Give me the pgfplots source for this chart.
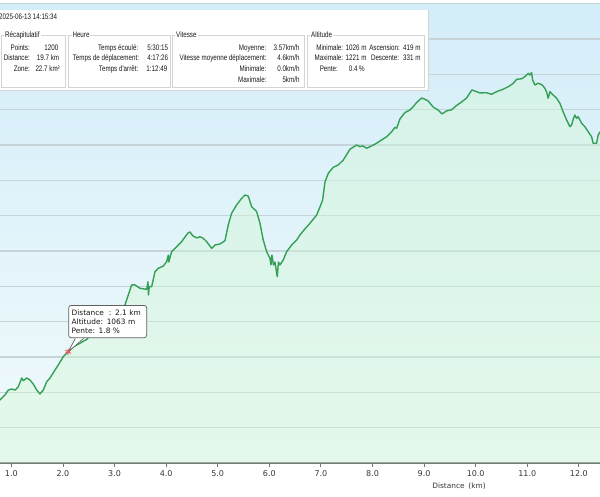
\documentclass[border=0pt]{standalone}
\usepackage{pgfplots}
\usepackage{pgfplotstable}
\pgfplotsset{compat=1.18}
\usepackage{fontspec}
\setmainfont{DejaVu Sans}
\newfontfamily\panelfont{Liberation Sans}[FakeStretch=0.78]
\definecolor{lineGreen}{RGB}{52,160,86}
\definecolor{fillCol}{RGB}{212,248,214}
\definecolor{bgTop}{RGB}{211,237,249}
\definecolor{bgBot}{RGB}{241,250,251}
\definecolor{gridCol}{RGB}{198,211,217}
\definecolor{axisCol}{RGB}{112,120,116}
\definecolor{tickText}{RGB}{55,55,55}
\definecolor{panelText}{RGB}{25,25,25}
\definecolor{boxCol}{RGB}{212,212,212}
\definecolor{tipGray}{RGB}{95,95,95}
\definecolor{starRed}{RGB}{232,88,88}

\pgfplotstableread{
km alt
0.70 1034.5
0.78 1035.7
0.877 1038.5
0.941 1041.3
1.007 1041.9
1.071 1041.3
1.135 1043.2
1.201 1048.1
1.232 1046.6
1.297 1048.1
1.361 1047.0
1.425 1044.7
1.491 1041.3
1.555 1039.1
1.619 1041.3
1.685 1046.0
1.749 1048.1
1.813 1051.1
1.910 1055.5
2.007 1060.2
2.100 1063.0
2.200 1065.8
2.330 1067.8
2.460 1070.0
2.511 1071.5
2.718 1076.4
2.951 1082.1
3.202 1089.4
3.332 1100.8
3.396 1100.8
3.493 1098.9
3.623 1098.3
3.648 1102.5
3.658 1095.1
3.673 1099.8
3.720 1099.8
3.784 1108.3
3.848 1110.2
3.945 1111.5
4.011 1114.0
4.042 1117.7
4.051 1113.8
4.107 1119.6
4.204 1122.4
4.301 1125.3
4.365 1127.9
4.423 1130.2
4.462 1130.8
4.520 1128.5
4.598 1127.4
4.656 1128.1
4.720 1127.2
4.786 1125.3
4.883 1121.5
4.947 1123.4
5.044 1124.0
5.140 1125.8
5.204 1134.7
5.270 1141.4
5.367 1146.1
5.464 1149.8
5.528 1151.7
5.592 1151.1
5.658 1145.1
5.755 1142.3
5.819 1135.7
5.883 1126.2
5.949 1119.6
6.013 1115.9
6.032 1112.1
6.051 1117.7
6.080 1112.1
6.109 1113.8
6.154 1105.5
6.177 1113.8
6.206 1112.1
6.270 1114.9
6.336 1119.6
6.433 1123.4
6.530 1126.2
6.594 1129.1
6.691 1132.5
6.788 1135.7
6.918 1140.4
6.982 1144.9
7.034 1148.9
7.079 1159.1
7.143 1164.0
7.239 1167.4
7.336 1168.7
7.433 1171.5
7.563 1177.6
7.693 1180.0
7.757 1179.1
7.809 1179.5
7.887 1178.2
7.983 1179.5
8.080 1181.0
8.177 1182.9
8.274 1184.7
8.371 1187.5
8.435 1190.0
8.468 1189.5
8.532 1194.7
8.629 1198.4
8.726 1199.8
8.790 1201.7
8.856 1204.1
8.952 1206.6
9.016 1205.9
9.080 1204.9
9.177 1201.5
9.274 1199.8
9.346 1197.6
9.437 1199.3
9.534 1200.0
9.631 1202.4
9.728 1204.4
9.824 1206.6
9.927 1211.2
10.018 1210.2
10.082 1209.5
10.212 1209.6
10.309 1208.7
10.406 1210.2
10.534 1211.6
10.631 1213.0
10.728 1214.9
10.794 1217.2
10.890 1217.5
10.954 1218.7
11.018 1220.6
11.051 1219.6
11.084 1221.0
11.104 1216.8
11.148 1214.0
11.212 1215.0
11.290 1214.0
11.342 1212.1
11.375 1210.0
11.406 1206.5
11.439 1210.2
11.503 1208.3
11.569 1206.5
11.633 1203.6
11.697 1198.7
11.763 1194.2
11.827 1190.4
11.860 1191.3
11.891 1194.7
11.923 1197.0
11.956 1195.1
11.987 1196.0
12.020 1194.2
12.053 1192.3
12.117 1190.4
12.181 1187.5
12.247 1184.7
12.278 1181.0
12.344 1181.0
12.375 1185.7
12.408 1187.2
12.45 1188.5
}\prof

\newcommand{\pf}{\panelfont\fontsize{8}{9}\selectfont}
\newcommand{\pr}[3]{\node[anchor=base east, inner sep=0pt, font=\pf, text=panelText] at (#1pt,#2pt) {#3};}
\newcommand{\gbox}[3]{%
  \draw[boxCol, line width=0.6pt] (#1pt,461pt) rectangle (#2pt,409pt);
  \node[anchor=base west, fill=white, inner xsep=1pt, inner ysep=0.5pt, font=\pf, text=panelText] at (#1pt+3pt,458.1pt) {#3};}

\begin{document}
\begin{tikzpicture}
\useasboundingbox (0pt,0pt) rectangle (600pt,496pt);
\fill[white] (0pt,0pt) rectangle (600pt,496pt);
\shade[top color=bgTop, bottom color=bgBot] (0pt,33pt) rectangle (600pt,492.3pt);
\begin{axis}[
  at={(0pt,33pt)}, anchor=south west,
  scale only axis, width=600pt, height=459.3pt,
  xmin=0.78, xmax=12.41, ymin=1000, ymax=1260,
  axis x line*=bottom, axis y line*=left,
  x axis line style={axisCol, line width=1.3pt},
  y axis line style={draw=none},
  xtick={1,2,3,4,5,6,7,8,9,10,11,12},
  xticklabels={1.0,2.0,3.0,4.0,5.0,6.0,7.0,8.0,9.0,10.0,11.0,12.0},
  xticklabel style={font=\fontsize{8}{9}\selectfont, text=tickText, yshift=-1pt},
  x tick style={axisCol, line width=0.8pt},
  tick align=outside, major tick length=3.5pt,
  ytick={1000,1020,...,1260}, yticklabels={},
  y tick style={draw=none},
  ymajorgrids, grid style={gridCol, line width=1.1pt},
  xlabel={Distance\enspace(km)},
  xlabel style={at={(axis description cs:0.765,0)}, anchor=center, yshift=-22.7pt,
    font=\fontsize{7.4}{9}\selectfont, text=tickText},
]
\addplot[draw=none, fill=fillCol, fill opacity=0.42] table[x=km, y=alt]{\prof} \closedcycle;
\addplot[lineGreen, line width=1.4pt, line join=round] table[x=km, y=alt]{\prof};
\node[draw=tipGray, fill=white, rounded corners=2.5pt, line width=0.7pt, anchor=north west,
  inner xsep=3pt, inner ysep=4.3pt, text width=72pt, align=left,
  font=\fontsize{7.4}{9}\selectfont, text=panelText]
  at (axis cs:2.104,1089.4) {Distance\ \ : 2.1 km\\Altitude: 1063 m\\Pente: 1.8 \%};
\filldraw[fill=white, draw=tipGray, line width=0.7pt, line join=round]
  (axis cs:2.24,1070.5) -- (axis cs:2.104,1063) -- (axis cs:2.40,1070.5);
\addplot[only marks, mark=asterisk, mark size=3.2pt, starRed, line width=0.9pt] coordinates {(2.1,1063)};
\end{axis}
% info panel
\fill[white] (0pt,406pt) rectangle (428pt,486pt);
\draw[boxCol, line width=0.5pt] (428pt,486pt) -- (428pt,406pt) -- (0pt,406pt);
\node[anchor=base west, inner sep=0pt, font=\pf, text=panelText] at (-1pt,476.1pt) {2025-06-13 14:15:34};
\gbox{1}{65}{Récapitulatif}
\gbox{68.3}{170}{Heure}
\gbox{172}{304}{Vitesse}
\gbox{307}{424}{Altitude}
\pr{30}{445.6}{Points:}
\pr{30}{435.1}{Distance:}
\pr{30}{424.1}{Zone:}
\pr{58.5}{445.6}{1200}
\pr{59.3}{435.1}{19.7 km}
\pr{60}{424.1}{22.7 km²}
\pr{138.5}{445.6}{Temps écoulé:}
\pr{139.3}{435.1}{Temps de déplacement:}
\pr{138.5}{424.1}{Temps d'arrêt:}
\pr{168.3}{445.6}{5:30:15}
\pr{168.3}{435.1}{4:17:26}
\pr{167.5}{424.1}{1:12:49}
\pr{266.5}{445.6}{Moyenne:}
\pr{266.7}{435.1}{Vitesse moyenne déplacement:}
\pr{266.5}{424.1}{Minimale:}
\pr{266.7}{413.1}{Maximale:}
\pr{299.5}{445.6}{3.57km/h}
\pr{299.7}{435.1}{4.6km/h}
\pr{299.7}{424.1}{0.0km/h}
\pr{299.7}{413.1}{5km/h}
\pr{343.3}{445.6}{Minimale:}
\pr{343.3}{435.1}{Maximale:}
\pr{338}{424.1}{Pente:}
\pr{366.7}{445.6}{1026 m}
\pr{366.7}{435.1}{1221 m}
\pr{365}{424.1}{0.4 \%}
\pr{400}{445.6}{Ascension:}
\pr{399.3}{435.1}{Descente:}
\pr{420.7}{445.6}{419 m}
\pr{420.7}{435.1}{331 m}
\end{tikzpicture}
\end{document}
